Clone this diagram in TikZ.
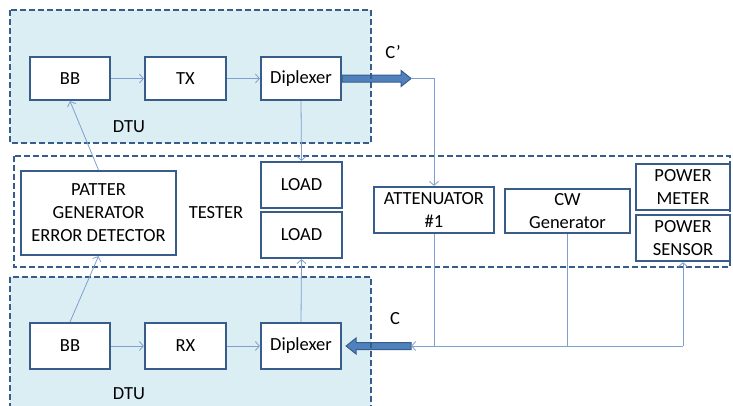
\documentclass[tikz,border=0pt]{standalone}
\usepackage{fontspec}
\setmainfont{Carlito}
\usetikzlibrary{arrows.meta,calc}

\begin{document}
\begin{tikzpicture}[x=1pt, y=-1pt, every node/.style={font=\fontsize{18.5}{23}\selectfont}]
        \definecolor{dtuline}{RGB}{56,93,138}
        \definecolor{dtufill}{RGB}{219,238,244}
        \definecolor{wireblue}{RGB}{127,160,207}
        \definecolor{fatblue}{RGB}{79,129,189}
        \tikzset{
            blk/.style={draw=dtuline, line width=2.2pt, fill=white, inner sep=0pt, align=center},
            zone/.style={draw=dtuline, line width=2.2pt, dash pattern=on 6pt off 3pt},
            wire/.style={draw=wireblue, line width=0.8pt},
            wirearr/.style={wire, -{Straight Barb[length=4pt,width=9pt]}},
            fat/.style={fill=fatblue, draw=dtuline, line width=1pt, line join=miter}
        }
        \useasboundingbox (0,0) rectangle (733,405);
        \clip (0,0) rectangle (733,405);

        % Zones (fill only, borders later)
        \fill[dtufill] (10,10) rectangle (371,143);
        \fill[dtufill] (10,277) rectangle (371,420);

        % DTU (transmit side)
        \node[blk, minimum width=80pt, minimum height=43pt] (bbT) at (70,78.5) {BB};
        \node[blk, minimum width=81pt, minimum height=43pt] (txT) at (185.5,78.5) {TX};
        \node[blk, minimum width=80pt, minimum height=43pt] (dipT) at (301,78.5) {Diplexer};
        \node (dtuT) at (129,127) {DTU};

        % Tester
        \node[blk, minimum width=155pt, minimum height=84pt] (patt) at (98.5,213) {PATTER\\GENERATOR\\ERROR DETECTOR};
        \node (tester) at (216,213) {TESTER};
        \node[blk, minimum width=81pt, minimum height=46pt] (loadA) at (301.5,185) {LOAD};
        \node[blk, minimum width=81pt, minimum height=46pt] (loadB) at (301.5,235) {LOAD};
        \node[blk, minimum width=120pt, minimum height=46pt] (att) at (434,210) {ATTENUATOR\\\#1};
        \node[blk, minimum width=125pt, minimum height=44pt] (cw) at (567.5,211) {CW\\Generator};
        \node[blk, minimum width=94pt, minimum height=46pt] (pmeter) at (683,187) {POWER\\METER};
        \node[blk, minimum width=94pt, minimum height=46pt] (psensor) at (683,238) {POWER\\SENSOR};

        % DTU (receive side)
        \node[blk, minimum width=80pt, minimum height=46pt] (bbR) at (70,346) {BB};
        \node[blk, minimum width=81pt, minimum height=46pt] (rx) at (185.5,346) {RX};
        \node[blk, minimum width=80pt, minimum height=46pt] (dipR) at (301,346) {Diplexer};
        \node (dtuR) at (129,394) {DTU};

        % Thick arrows C' and C
        \coordinate (cpTip) at ($(dipT.east)+(69,0)$);
        \coordinate (cIn) at ($(dipR.east)+(69,0)$);
        \filldraw[fat] ($(dipT.east)+(0,-3.5)$) -- ($(cpTip)+(-10,-3.5)$) -- ++(0,-4.5) -- (cpTip)
            -- ($(cpTip)+(-10,8)$) -- ++(0,-4.5) -- ($(dipT.east)+(0,3.5)$) -- cycle;
        \filldraw[fat] ($(dipR.east)+(4,0)$) -- ++(10,-8) -- ++(0,4.5) -- ($(cIn)+(0,-3.5)$)
            -- ($(cIn)+(0,3.5)$) -- ($(dipR.east)+(14,3.5)$) -- ++(0,4.5) -- cycle;
        \node (cp) at (393,52) {C'};
        \node (c) at (395,319) {C};

        % Zone borders
        \draw[zone] (10,10) rectangle (371,143);
        \draw[zone] (10,277) rectangle (371,420);
        \draw[zone] (14,156) rectangle (730,267);

        % Signal chain arrows
        \draw[wirearr] (bbT) -- (txT);
        \draw[wirearr] (txT) -- (dipT);
        \draw[wirearr] (bbR) -- (rx);
        \draw[wirearr] (rx) -- (dipR);
        \draw[wirearr] (patt.north) -- (bbT.south);
        \draw[wirearr] (bbR.north) -- (patt.south);
        \draw[wirearr] (dipT.south) -- (loadA.north);
        \draw[wirearr] (dipR.north) -- (loadB.south);

        % RF path through tester
        \draw[wirearr] (cpTip) -| (att.north);
        \draw[wire] (att.south) -- (att.south |- cIn);
        \draw[wire] (cw.south) -- (cw.south |- cIn);
        \draw[wirearr] (psensor.south |- cIn) -- (cIn);
        \draw[wirearr] (psensor.south |- cIn) -- (psensor.south);
\end{tikzpicture}
\end{document}
